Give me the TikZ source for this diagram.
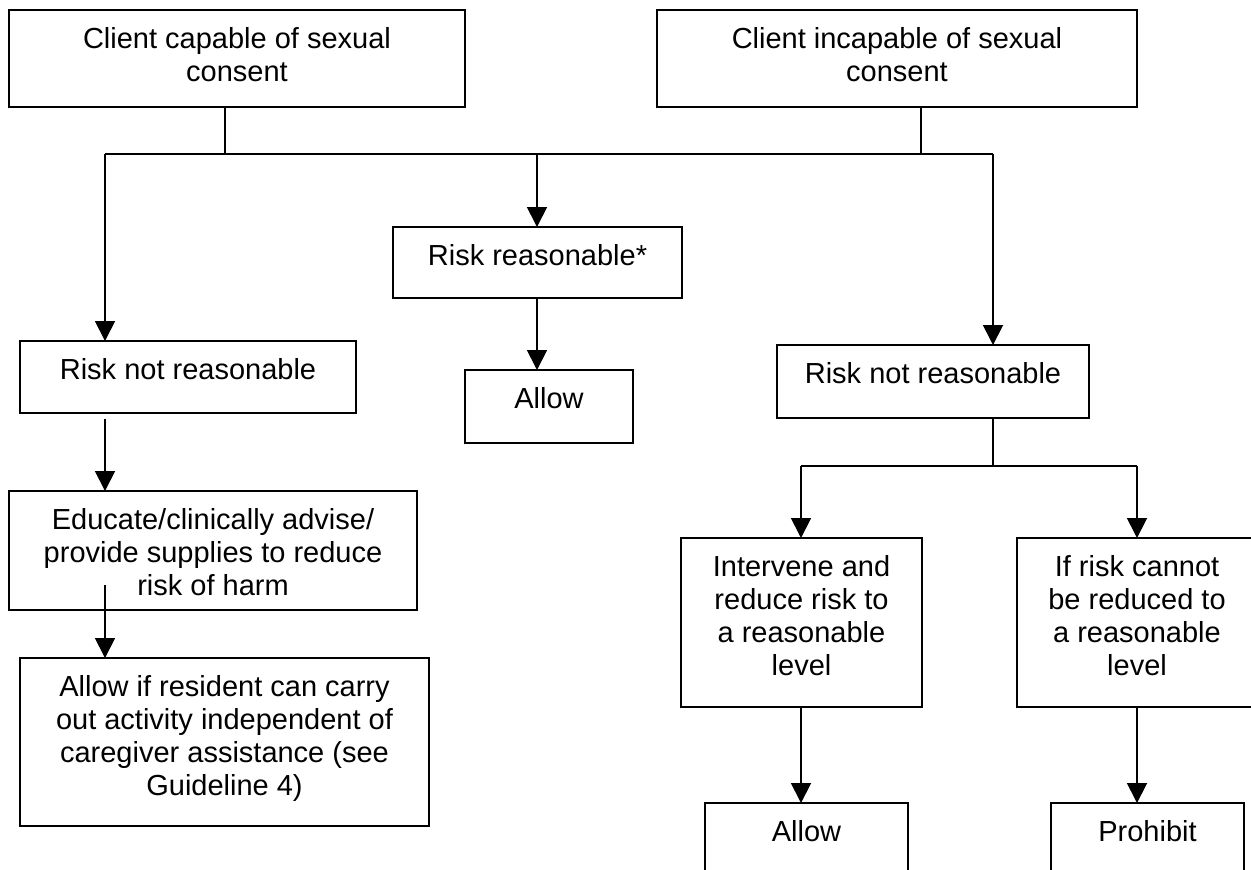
\documentclass[tikz,border=0pt]{standalone}
\usepackage{fontspec}
\setmainfont{Liberation Sans}
\usetikzlibrary{arrows.meta,fit,calc}
\tikzset{
  box/.style={draw=black, line width=1pt, rectangle, inner sep=0pt, outer sep=0pt},
  txt/.style={inner sep=0pt, outer sep=0pt, align=center, anchor=north,
              font=\fontsize{14.5}{16.5}\selectfont},
  conn/.style={draw=black, line width=0.9pt},
  arr/.style={conn, -{Triangle[width=10pt,length=10pt]}}
}
\begin{document}
\begin{tikzpicture}[x=0.5pt, y=-0.5pt]
\useasboundingbox (0,0) rectangle (1251,869);
\fill[white] (0,0) rectangle (1251,869);
\clip (0,0) rectangle (1251,869);

% boxes
\node[box, fit={(9,10) (465,107)}] (c1) {};
\node[box, fit={(657,10) (1137,107)}] (c2) {};
\node[box, fit={(393,227) (682,298)}] (rr) {};
\node[box, fit={(465,370) (633,443)}] (al1) {};
\node[box, fit={(20,341) (356,413)}] (rnrL) {};
\node[box, fit={(777,345) (1089,418)}] (rnrR) {};
\node[box, fit={(9,491) (417,610)}] (edu) {};
\node[box, fit={(20,658) (429,826)}] (aif) {};
\node[box, fit={(681,538) (922,707)}] (iv) {};
\node[box, fit={(1017,538) (1257,707)}] (ir) {};
\node[box, fit={(705,803) (908,900)}] (al2) {};
\node[box, fit={(1051,803) (1244,900)}] (pr) {};

% texts
\node[txt] (c1t) at ([yshift=-7.45pt]c1.north) {\strut Client capable of sexual\\consent};
\node[txt] (c2t) at ([yshift=-7.45pt]c2.north) {\strut Client incapable of sexual\\consent};
\node[txt] (rrt) at ([yshift=-7.45pt]rr.north) {\strut Risk reasonable*};
\node[txt] (al1t) at ([yshift=-7.45pt]al1.north) {\strut Allow};
\node[txt] (rnrLt) at ([yshift=-7.45pt]rnrL.north) {\strut Risk not reasonable};
\node[txt] (rnrRt) at ([yshift=-7.45pt]rnrR.north) {\strut Risk not reasonable};
\node[txt] (edut) at ([yshift=-7.45pt]edu.north) {\strut Educate/clinically advise/\\provide supplies to reduce\\risk of harm};
\node[txt] (aift) at ([yshift=-7.45pt]aif.north) {\strut Allow if resident can carry\\out activity independent of\\caregiver assistance (see\\Guideline 4)};
\node[txt] (ivt) at ([yshift=-7.45pt]iv.north) {\strut Intervene and\\reduce risk to\\a reasonable\\level};
\node[txt] (irt) at ([yshift=-7.45pt]ir.north) {\strut If risk cannot\\be reduced to\\a reasonable\\level};
\node[txt] (al2t) at ([yshift=-7.45pt]al2.north) {\strut Allow};
\node[txt] (prt) at ([yshift=-7.45pt]pr.north) {\strut Prohibit};

% junction points
\coordinate (jL) at (105,154);
\coordinate (jM) at (537,154);
\coordinate (jR) at (993,154);
\coordinate (j1) at (225,154);
\coordinate (j2) at (921,154);
\coordinate (k) at (993,466);
\coordinate (kL) at (801,466);
\coordinate (kR) at (1137,466);

% connectors
\draw[conn] (c1.south -| j1) -- (j1);
\draw[conn] (c2.south -| j2) -- (j2);
\draw[conn] (jL) -- (jR);
\draw[arr] (jL) -- (rnrL.north -| jL);
\draw[arr] (jM) -- (rr.north -| jM);
\draw[arr] (jR) -- (rnrR.north -| jR);
\draw[arr] (rr.south -| jM) -- (al1.north -| jM);
\draw[arr] ($(rnrL.south -| jL)+(0,6)$) -- (edu.north -| jL);
\draw[arr] ($(edu.south -| jL)+(0,-25)$) -- (aif.north -| jL);
\draw[conn] (rnrR.south -| k) -- (k);
\draw[conn] (kL) -- (kR);
\draw[arr] (kL) -- (iv.north -| kL);
\draw[arr] (kR) -- (ir.north -| kR);
\draw[arr] (iv.south -| kL) -- (al2.north -| kL);
\draw[arr] (ir.south -| kR) -- (pr.north -| kR);
\end{tikzpicture}
\end{document}
